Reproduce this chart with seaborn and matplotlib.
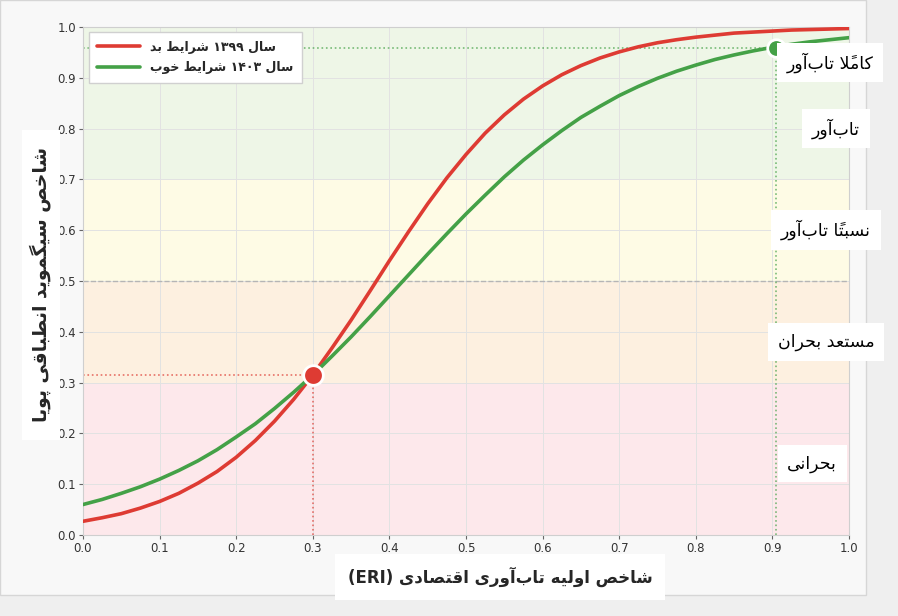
import seaborn as sns
import matplotlib.pyplot as plt
import pandas as pd
from matplotlib.patches import Rectangle

# ---------------- data ----------------
eri = [0.000, 0.025, 0.050, 0.075, 0.100, 0.125, 0.150, 0.175, 0.200, 0.225,
       0.250, 0.275, 0.300, 0.325, 0.350, 0.375, 0.400, 0.425, 0.450, 0.475,
       0.500, 0.525, 0.550, 0.575, 0.600, 0.625, 0.650, 0.675, 0.700, 0.725,
       0.750, 0.775, 0.800, 0.825, 0.850, 0.875, 0.900, 0.925, 0.950, 0.975, 1.000]
sig_1399 = [0.027, 0.034, 0.042, 0.053, 0.066, 0.082, 0.102, 0.125, 0.153, 0.186,
            0.224, 0.267, 0.315, 0.368, 0.423, 0.481, 0.540, 0.597, 0.652, 0.703,
            0.749, 0.791, 0.827, 0.858, 0.884, 0.906, 0.924, 0.939, 0.951, 0.961,
            0.969, 0.975, 0.980, 0.984, 0.988, 0.990, 0.992, 0.994, 0.995, 0.996, 0.997]
sig_1403 = [0.060, 0.070, 0.082, 0.095, 0.110, 0.127, 0.146, 0.168, 0.193, 0.219,
            0.249, 0.281, 0.315, 0.352, 0.390, 0.430, 0.471, 0.512, 0.553, 0.593,
            0.632, 0.669, 0.705, 0.738, 0.768, 0.796, 0.822, 0.844, 0.865, 0.883,
            0.899, 0.913, 0.925, 0.936, 0.945, 0.953, 0.960, 0.966, 0.971, 0.975, 0.979]

# highlighted points (eri, sigmoid)
pt_1399 = (0.300, 0.315)
pt_1403 = (0.905, 0.958)

band_edges = [0.0, 0.3, 0.5, 0.7, 1.0]
band_colors = ['#fde8eb', '#fdf0e0', '#fefbe5', '#eef6e7']
zone_names = ['بحرانی', 'مستعد بحران', 'نسبتاً تاب\u200cآور', 'تاب\u200cآور', 'کاملاً تاب\u200cآور']
zone_y = [0.14, 0.38, 0.60, 0.80, 0.93]
zone_x = [0.952, 0.970, 0.970, 0.983, 0.975]

label_1399 = 'سال ۱۳۹۹ شرایط بد'
label_1403 = 'سال ۱۴۰۳ شرایط خوب'
x_title = 'شاخص اولیه تاب\u200cآوری اقتصادی (ERI)'
y_title = 'شاخص سیگموید انطباقی پویا'

RED = '#de3b33'
GREEN = '#44a147'

# ---------------- tiny persian shaper (matplotlib has no bidi) ----------------
# letter -> (first presentation form, dual joining?)
FORMS = {
    '\u0627': (0xFE8D, False), '\u0622': (0xFE81, False), '\u062F': (0xFEA9, False),
    '\u0631': (0xFEAD, False), '\u0648': (0xFEED, False),
    '\u0628': (0xFE8F, True), '\u067E': (0xFB56, True), '\u062A': (0xFE95, True),
    '\u062D': (0xFEA1, True), '\u062E': (0xFEA5, True), '\u0633': (0xFEB1, True),
    '\u0634': (0xFEB5, True), '\u0635': (0xFEB9, True), '\u0637': (0xFEC1, True),
    '\u0639': (0xFEC9, True), '\u0642': (0xFED5, True), '\u06A9': (0xFB8E, True),
    '\u06AF': (0xFB92, True), '\u0644': (0xFEDD, True), '\u0645': (0xFEE1, True),
    '\u0646': (0xFEE5, True), '\u0647': (0xFEE9, True), '\u06CC': (0xFBFC, True),
}
LAM_ALEF = {'\u0627': (0xFEFB, 0xFEFC), '\u0622': (0xFEF5, 0xFEF6)}
MARKS = '\u064B\u064E\u064F\u0650\u0651\u0652'


def shape_word(w):
    items = []
    brk = False
    for ch in w:
        if ch == '\u200c':
            brk = True
            continue
        if ch in MARKS and items:
            items[-1][1] += ch
            continue
        items.append([ch, '', brk])
        brk = False
    clusters = []
    i = 0
    while i < len(items):
        ch, marks, b = items[i]
        if ch not in FORMS:
            clusters.append(ch + marks)
            i += 1
            continue
        prev = i > 0 and not b and items[i - 1][0] in FORMS and FORMS[items[i - 1][0]][1]
        nxt_ok = i + 1 < len(items) and not items[i + 1][2] and items[i + 1][0] in FORMS
        if ch == '\u0644' and nxt_ok and items[i + 1][0] in LAM_ALEF:
            g = chr(LAM_ALEF[items[i + 1][0]][1 if prev else 0])
            clusters.append(g + marks + items[i + 1][1])
            i += 2
            continue
        base, dual = FORMS[ch]
        nxt = nxt_ok and dual
        if prev and nxt:
            g = base + 3
        elif prev:
            g = base + 1
        elif nxt:
            g = base + 2
        else:
            g = base
        clusters.append(chr(g) + marks)
        i += 1
    return ''.join(reversed(clusters))


def fa(text):
    text = text.replace('\u064A', '\u06CC').replace('\u0643', '\u06A9')
    toks = text.split(' ')
    out = [shape_word(t) if any(c in FORMS for c in t) else t for t in toks]
    return ' '.join(reversed(out))


# ---------------- plot ----------------
sns.set_theme(style='whitegrid')
plt.rcParams['font.family'] = ['DejaVu Sans']

fig = plt.figure(figsize=(8.98, 6.16), dpi=100, facecolor='#efefef')
fig.patches.append(Rectangle((0, 21 / 616), 866 / 898, 1 - 21 / 616, transform=fig.transFigure,
                             facecolor='#f8f8f8', edgecolor='#d6d6d6', lw=1, zorder=-10))
ax = fig.add_axes([83 / 898, 81 / 616, 766 / 898, 508 / 616])
ax.set_facecolor('white')

for lo, hi, c in zip(band_edges[:-1], band_edges[1:], band_colors):
    ax.axhspan(lo, hi, color=c, zorder=0, lw=0)

ax.grid(True, color='#e2e2e2', lw=0.7, zorder=1)
ax.axhline(0.5, color='#b5b5b5', lw=1, ls='--', zorder=1.5)

df = pd.DataFrame({'eri': eri, 's1399': sig_1399, 's1403': sig_1403})
sns.lineplot(data=df, x='eri', y='s1399', color=RED, lw=2.6, ax=ax, label=fa(label_1399), zorder=3)
sns.lineplot(data=df, x='eri', y='s1403', color=GREEN, lw=2.6, ax=ax, label=fa(label_1403), zorder=3)

# guide lines to the highlighted points
for (px, py), c in [(pt_1399, RED), (pt_1403, GREEN)]:
    ax.plot([0, px], [py, py], ls=':', color=c, lw=1.2, alpha=0.7, zorder=2)
    ax.plot([px, px], [0, py], ls=':', color=c, lw=1.2, alpha=0.7, zorder=2)
sns.scatterplot(x=[pt_1399[0]], y=[pt_1399[1]], s=200, color=RED, edgecolor='white',
                linewidth=2, ax=ax, zorder=5, legend=False)
sns.scatterplot(x=[pt_1403[0]], y=[pt_1403[1]], s=160, color=GREEN, edgecolor='white',
                linewidth=2, ax=ax, zorder=5, legend=False)

ax.set_xlim(0, 1)
ax.set_ylim(0, 1)
ticks = [i / 10 for i in range(11)]
ax.set_xticks(ticks)
ax.set_yticks(ticks)
ax.set_xticklabels([f'{t:.1f}' for t in ticks])
ax.set_yticklabels([f'{t:.1f}' for t in ticks])
ax.tick_params(axis='both', labelsize=8.5, labelcolor='#333333', direction='out',
               length=3, width=0.8, color='#666666', bottom=True, left=True, pad=2)
for s in ax.spines.values():
    s.set_color('#cfcfcf')
    s.set_linewidth(0.8)
ax.set_xlabel('')
ax.set_ylabel('')

leg = ax.legend(loc='upper left', bbox_to_anchor=(0.004, 0.995),
                prop={'weight': 'bold', 'size': 9}, frameon=True, fancybox=False,
                handlelength=3.4, borderpad=0.7, labelspacing=0.6, borderaxespad=0.2)
leg.get_frame().set_facecolor('white')
leg.get_frame().set_edgecolor('#d0d0d0')
leg.get_frame().set_alpha(1)

# zone labels on the right
for name, yy, xx in zip(zone_names, zone_y, zone_x):
    ax.text(xx, yy, fa(name), transform=ax.transData, ha='center', va='center',
            fontsize=12.5, color='black', zorder=6, clip_on=False,
            bbox=dict(boxstyle='square,pad=0.55', facecolor='white', edgecolor='none'))

# axis titles drawn as white boxes
fig.text(500 / 898, 1 - 577 / 616, fa(x_title), ha='center', va='center', fontsize=12,
         fontweight='bold', bbox=dict(boxstyle='square,pad=0.75', facecolor='white', edgecolor='none'))
fig.patches.append(Rectangle((22 / 898, 1 - 440 / 616), 38 / 898, 310 / 616, transform=fig.transFigure,
                             facecolor='white', edgecolor='none', zorder=5))
fig.text(40 / 898, 1 - 285 / 616, fa(y_title), ha='center', va='center', rotation=90,
         fontsize=13.5, fontweight='bold', zorder=6)

fig.savefig('out.png', dpi=100, facecolor=fig.get_facecolor())
